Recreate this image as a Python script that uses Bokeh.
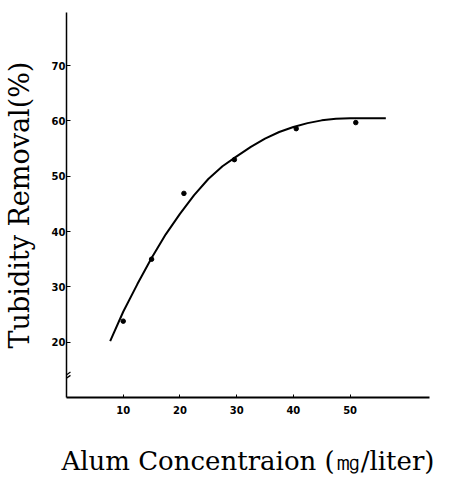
from bokeh.plotting import figure
from bokeh.embed import file_html
from bokeh.resources import INLINE
from bokeh.models import FixedTicker, Range1d

# measured points
dose = [10, 15, 20.7, 29.6, 40.5, 51]
removal = [23.8, 35.0, 46.9, 53.0, 58.6, 59.7]

# fitted curve
curve_x = [7.7, 10, 12.5, 15, 17.5, 20, 22.5, 25, 27.5, 30, 32.5, 35, 37.5, 40, 42.5, 45, 47.5, 50, 53, 56.3]
curve_y = [20.2, 25.5, 30.5, 35.2, 39.5, 43.2, 46.6, 49.5, 51.8, 53.6, 55.3, 56.8, 58.0, 58.9, 59.6, 60.1, 60.4, 60.5, 60.5, 60.5]

x_ticks = [10, 20, 30, 40, 50]
y_ticks = [20, 30, 40, 50, 60, 70]

x_title = "Alum Concentraion (\u338e/liter)"
y_title = "Tubidity Removal(%)"

p = figure(frame_width=363, frame_height=385, output_backend="svg", toolbar_location=None,
           x_range=Range1d(0, 64), y_range=Range1d(10, 79.6),
           min_border_left=62, min_border_top=12, min_border_right=42, min_border_bottom=84)
p.outline_line_color = None
p.grid.visible = False
p.background_fill_color = "white"
p.border_fill_color = "white"

p.line(curve_x, curve_y, line_color="black", line_width=2)
p.scatter(dose, removal, size=4.5, color="black")

# axis break marks
brk_y = [13.0, 14.0]
p.segment(x0=[-0.7, -0.7], y0=[brk_y[0], brk_y[0] + 0.6], x1=[0.7, 0.7], y1=[brk_y[1], brk_y[1] + 0.6],
          line_color="black", line_width=1.3)

xa = p.xaxis[0]
xa.ticker = FixedTicker(ticks=x_ticks)
xa.axis_line_width = 2
xa.axis_line_color = "black"
xa.major_tick_in = 3
xa.major_tick_out = 0
xa.minor_tick_line_color = None
xa.major_label_text_font = "DejaVu Sans"
xa.major_label_text_font_style = "bold"
xa.major_label_text_font_size = "10px"
xa.major_label_text_color = "black"
xa.major_label_standoff = 8
xa.axis_label = x_title
xa.axis_label_text_font = "DejaVu Serif"
xa.axis_label_text_font_style = "normal"
xa.axis_label_text_font_size = "26px"
xa.axis_label_text_color = "black"
xa.axis_label_standoff = 29

ya = p.yaxis[0]
ya.ticker = FixedTicker(ticks=y_ticks)
ya.axis_line_width = 1.5
ya.axis_line_color = "black"
ya.major_tick_in = 4
ya.major_tick_out = 0
ya.minor_tick_line_color = None
ya.major_label_text_font = "DejaVu Sans"
ya.major_label_text_font_style = "bold"
ya.major_label_text_font_size = "10px"
ya.major_label_text_color = "black"
ya.major_label_standoff = 1
ya.axis_label = y_title
ya.axis_label_text_font = "DejaVu Serif"
ya.axis_label_text_font_style = "normal"
ya.axis_label_text_font_size = "27px"
ya.axis_label_text_color = "black"
ya.axis_label_standoff = 14

open("out.html", "w").write(file_html(p, INLINE))
